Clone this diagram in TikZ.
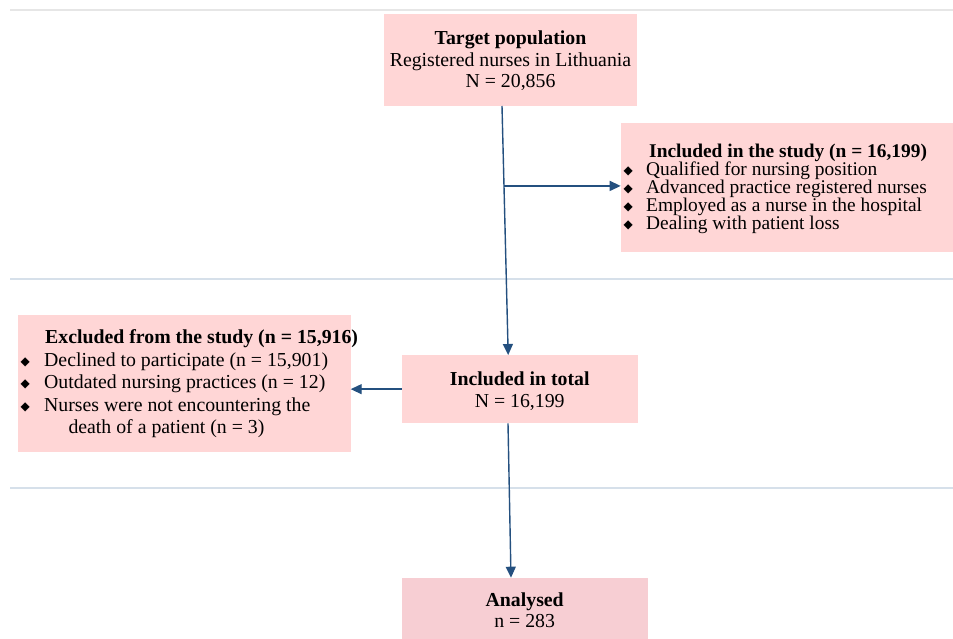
\documentclass[tikz,border=0pt]{standalone}
\usepackage{fontspec}
\setmainfont{Liberation Serif}
\newfontfamily\symfont{DejaVu Sans}
\usetikzlibrary{arrows.meta,calc}
\definecolor{pinkfill}{RGB}{255,214,214}
\definecolor{pinkfillb}{RGB}{247,206,211}
\definecolor{arrowblue}{RGB}{36,80,127}
\definecolor{sepblue}{RGB}{214,224,234}
\definecolor{topgray}{RGB}{230,230,230}
\newcommand{\bul}[1]{\makebox[#1][l]{\raisebox{0.6pt}{\symfont\fontsize{12}{12}\selectfont ◆}}}
\begin{document}
\begin{tikzpicture}[x=1pt,y=-1pt,
  box/.style={fill=pinkfill,draw=none,inner sep=0pt,outer sep=0pt,anchor=north west},
  txt/.style={inner sep=0pt,anchor=base,font=\fontsize{19.8}{22}\selectfont},
  ltxt/.style={inner sep=0pt,anchor=base west,font=\fontsize{19.8}{22}\selectfont},
  rtxt/.style={inner sep=0pt,anchor=base west,font=\fontsize{19.4}{22}\selectfont},
  arr/.style={draw=arrowblue,line width=1.4pt,-{Triangle[length=11pt,width=10pt]}},
  sep/.style={draw=sepblue,line width=1.6pt}]
\useasboundingbox (0,0) rectangle (953,639);
% separator lines
\draw[draw=topgray,line width=1.2pt] (10,10) -- (953,10);
\draw[sep] (10,279) -- (953,279);
\draw[sep] (10,488) -- (953,488);
% boxes
\node[box,minimum width=253pt,minimum height=92pt] (top) at (384,14) {};
\node[box,minimum width=332pt,minimum height=129pt] (right) at (620.7,122.7) {};
\node[box,minimum width=332.4pt,minimum height=136.7pt] (left) at (18.3,315) {};
\node[box,minimum width=236pt,minimum height=68.3pt] (mid) at (401.7,355) {};
\node[box,fill=pinkfillb,minimum width=246pt,minimum height=70pt] (bot) at (401.7,577.7) {};
% top box text
\node[txt] (t1) at (510.5,44.5) {\textbf{Target population}};
\node[txt] (t2) at (510.5,66.2) {Registered nurses in Lithuania};
\node[txt] (t3) at (510.5,87.8) {N = 20,856};
% right box text
\node[rtxt] (r1) at (649,157.5) {\textbf{Included in the study (n = 16,199)}};
\node[rtxt] (r2) at (623.5,175.5) {\bul{22.5pt}Qualified for nursing position};
\node[rtxt] (r3) at (623.5,193.5) {\bul{22.5pt}Advanced practice registered nurses};
\node[rtxt] (r4) at (623.5,211.5) {\bul{22.5pt}Employed as a nurse in the hospital};
\node[rtxt] (r5) at (623.5,229.5) {\bul{22.5pt}Dealing with patient loss};
% left box text
\node[ltxt] (l1) at (45,343.5) {\textbf{Excluded from the study (n = 15,916)}};
\node[ltxt] (l2) at (20.5,366) {\bul{23.5pt}Declined to participate (n = 15,901)};
\node[ltxt] (l3) at (20.5,388.5) {\bul{23.5pt}Outdated nursing practices (n = 12)};
\node[ltxt] (l4) at (20.5,411) {\bul{23.5pt}Nurses were not encountering the};
\node[ltxt] (l5) at (68.3,433.5) {death of a patient (n = 3)};
% middle box text
\node[txt] (m1) at (519.7,385) {\textbf{Included in total}};
\node[txt] (m2) at (519.7,407.5) {N = 16,199};
% bottom box text
\node[txt] (b1) at (524.7,606) {\textbf{Analysed}};
\node[txt] (b2) at (524.7,627.3) {n = 283};
% connectors
\coordinate (a1) at ([xshift=-8.5pt]top.south);
\coordinate (a2) at ([xshift=-11.5pt]mid.north);
\coordinate (br) at ($(a1)!0.321!(a2)$);
\draw[arr] (a1) -- (a2);
\draw[arr] (br) -- (br -| right.west);
\draw[arr] (mid.west) -- (mid.west -| left.east);
\draw[arr] ([xshift=-11.7pt]mid.south) -- ([xshift=-13.7pt]bot.north);
\end{tikzpicture}
\end{document}
